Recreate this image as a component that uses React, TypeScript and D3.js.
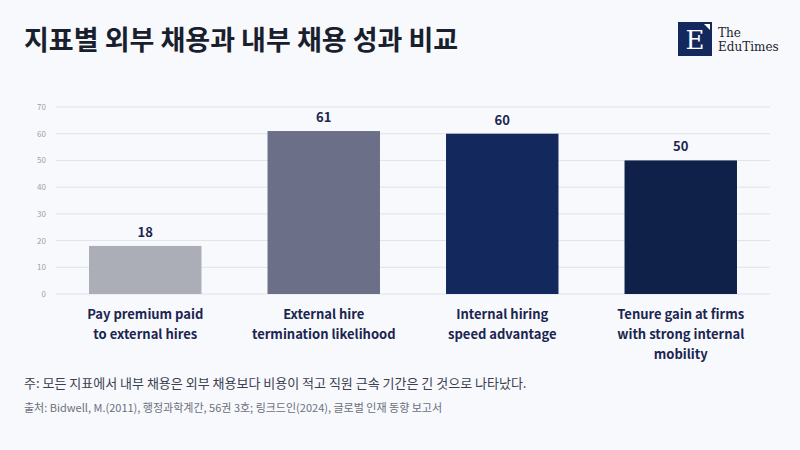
import * as d3 from "d3"

const categories = [
  ["Pay premium paid", "to external hires"],
  ["External hire", "termination likelihood"],
  ["Internal hiring", "speed advantage"],
  ["Tenure gain at firms", "with strong internal", "mobility"],
]
const values = [18, 61, 60, 50]
const colors = ["#abaeb6", "#6b6f87", "#13295e", "#0f2148"]
const yTicks = [0, 10, 20, 30, 40, 50, 60, 70]

const W = 800
const H = 450
const font = "'Noto Sans CJK KR', 'Noto Sans', sans-serif"

export default function App() {
  const x = d3.scaleBand<number>().domain(d3.range(values.length)).range([56, 770]).paddingInner(0.37).paddingOuter(0.185)
  const y = d3.scaleLinear().domain([0, 70]).range([294, 107])

  return (
    <svg width={W} height={H} style={{ position: "absolute", left: 0, top: 0, background: "#f8f9fc" }} fontFamily={font}>
      <rect width={W} height={H} fill="#f8f9fc" />
      <text x={24} y={50} fontSize={27} fontWeight={700} fill="#1a1f2e">지표별 외부 채용과 내부 채용 성과 비교</text>
      <rect x={678} y={22} width={34} height={34} fill="#13295e" />
      <text x={695} y={49} textAnchor="middle" fontSize={26} fill="#fff" fontFamily="'DejaVu Serif', serif">E</text>
      <path d="M704 24 L710 24 L710 30 Z" fill="#fff" />
      <text x={718} y={37} fontSize={12} fill="#1a1f2e" fontFamily="'DejaVu Serif', serif">The</text>
      <text x={718} y={51} fontSize={12} fill="#1a1f2e" fontFamily="'DejaVu Serif', serif">EduTimes</text>
      {yTicks.map((t) => (
        <g key={t}>
          <line x1={56} x2={770} y1={y(t)} y2={y(t)} stroke="#dfe2e8" strokeWidth={1} />
          <text x={46} y={y(t) + 3} textAnchor="end" fontSize={8} fill="#9aa0ab">{t}</text>
        </g>
      ))}
      {values.map((v, i) => (
        <g key={i}>
          <rect x={x(i)} y={y(v)} width={x.bandwidth()} height={y(0) - y(v)} fill={colors[i]} />
          <text x={x(i)! + x.bandwidth() / 2} y={y(v) - 9} textAnchor="middle" fontSize={13} fontWeight={700} fill="#1a2550">{v}</text>
          {categories[i].map((l, j) => (
            <text key={j} x={x(i)! + x.bandwidth() / 2} y={319 + j * 20} textAnchor="middle" fontSize={13} fontWeight={700} fill="#1a2550">{l}</text>
          ))}
        </g>
      ))}
      <text x={24} y={388} fontSize={13} fill="#3a4050">주: 모든 지표에서 내부 채용은 외부 채용보다 비용이 적고 직원 근속 기간은 긴 것으로 나타났다.</text>
      <text x={24} y={412} fontSize={11} fill="#6a707c">출처: Bidwell, M.(2011), 행정과학계간, 56권 3호; 링크드인(2024), 글로벌 인재 동향 보고서</text>
    </svg>
  )
}
